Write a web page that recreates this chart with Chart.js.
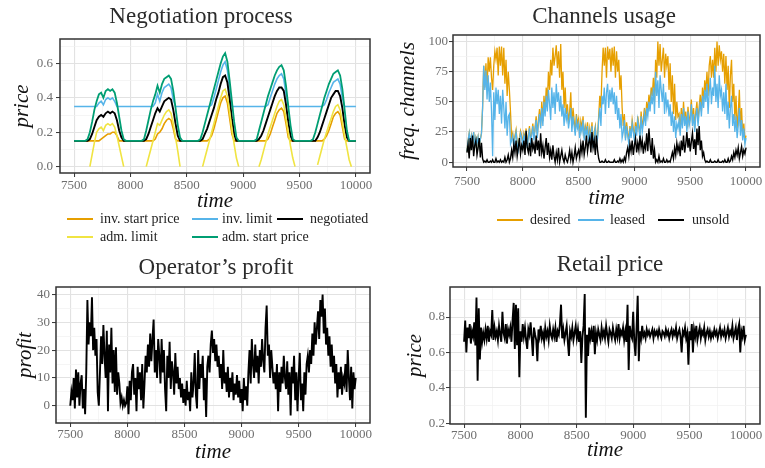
<!DOCTYPE html>
<html>
<head>
<meta charset="utf-8">
<script src="https://cdn.jsdelivr.net/npm/chart.js@4.4.1/dist/chart.umd.min.js"></script>
<style>
  html, body { margin: 0; padding: 0; background: #fff; }
  body { width: 765px; height: 468px; position: relative; overflow: hidden;
         font-family: 'Liberation Serif', 'DejaVu Serif', serif; }
  canvas { position: absolute; }
  .key { position: absolute; font-size: 14px; color: #222; line-height: 16px; white-space: nowrap; }
  .key i { position: absolute; height: 2px; width: 26px; top: 7px; }
  .key span { position: absolute; top: 0; }
</style>
</head>
<body>
<canvas id="nego" width="380" height="212" style="left:0;top:0"></canvas>
<canvas id="chan" width="385" height="212" style="left:380px;top:0"></canvas>
<canvas id="profit" width="380" height="218" style="left:0;top:250px"></canvas>
<canvas id="retail" width="385" height="218" style="left:380px;top:250px"></canvas>

<!-- legends -->
<div class="key" style="left:0;top:211px;width:380px;height:40px">
  <i style="left:67px;background:#E69F00"></i><span style="left:100px">inv. start price</span>
  <i style="left:192px;background:#56B4E9"></i><span style="left:222px">inv. limit</span>
  <i style="left:277px;background:#000"></i><span style="left:310px">negotiated</span>
</div>
<div class="key" style="left:0;top:229px;width:380px;height:20px">
  <i style="left:67px;background:#F0E442"></i><span style="left:100px">adm. limit</span>
  <i style="left:192px;background:#009E73"></i><span style="left:222px">adm. start price</span>
</div>
<div class="key" style="left:380px;top:212px;width:385px;height:20px">
  <i style="left:117px;background:#E69F00"></i><span style="left:150px">desired</span>
  <i style="left:198px;background:#56B4E9"></i><span style="left:230px">leased</span>
  <i style="left:278px;background:#000"></i><span style="left:312px">unsold</span>
</div>

<script>
// ---- axis ticks ----
const timeMajor = [7500, 8000, 8500, 9000, 9500, 10000];
const timeMinor = [7750, 8250, 8750, 9250, 9750];
const negoMajor = [0, 0.2, 0.4, 0.6];
const negoMinor = [0.1, 0.3, 0.5, 0.7];
const chanMajor = [0, 25, 50, 75, 100];
const chanMinor = [12.5, 37.5, 62.5, 87.5];
const profitMajor = [0, 10, 20, 30, 40];
const profitMinor = [-5, 5, 15, 25, 35];
const retailMajor = [0.2, 0.4, 0.6, 0.8];
const retailMinor = [0.3, 0.5, 0.7, 0.9];

// ---- negotiation process: 5 rounds, each sampled every 20 time units ----
const roundStart = [7600, 8100, 8600, 9100, 9600];
const roundOffset = [0, 20, 40, 60, 80, 100, 120, 140, 160, 180, 200, 220, 240, 260, 280, 300, 320, 340, 360];
const negoTime = [7500, ...roundStart.flatMap(s => roundOffset.map(o => s + o)), 10000];

const admStart = [0.15,
  0.15,0.16,0.20,0.26,0.33,0.38,0.42,0.43,0.40,0.44,0.45,0.44,0.45,0.43,0.37,0.29,0.21,0.16,0.15,
  0.15,0.16,0.21,0.27,0.33,0.38,0.42,0.47,0.43,0.48,0.51,0.52,0.53,0.51,0.44,0.34,0.24,0.17,0.15,
  0.15,0.16,0.20,0.25,0.30,0.35,0.40,0.45,0.50,0.55,0.60,0.64,0.66,0.61,0.50,0.38,0.26,0.17,0.15,
  0.15,0.16,0.21,0.26,0.31,0.36,0.41,0.45,0.49,0.53,0.56,0.58,0.59,0.56,0.47,0.35,0.24,0.16,0.15,
  0.15,0.16,0.20,0.25,0.30,0.35,0.40,0.44,0.48,0.51,0.54,0.55,0.56,0.53,0.45,0.33,0.21,0.15,0.15,
  0.15];
const invLimit = [0.35,
  0.35,0.35,0.35,0.35,0.35,0.35,0.37,0.38,0.36,0.39,0.40,0.39,0.40,0.38,0.35,0.35,0.35,0.35,0.35,
  0.35,0.35,0.35,0.35,0.35,0.35,0.37,0.42,0.38,0.43,0.46,0.47,0.48,0.46,0.39,0.35,0.35,0.35,0.35,
  0.35,0.35,0.35,0.35,0.35,0.35,0.36,0.40,0.45,0.50,0.55,0.59,0.61,0.56,0.45,0.35,0.35,0.35,0.35,
  0.35,0.35,0.35,0.35,0.35,0.35,0.36,0.40,0.44,0.48,0.51,0.53,0.54,0.51,0.42,0.35,0.35,0.35,0.35,
  0.35,0.35,0.35,0.35,0.35,0.35,0.36,0.39,0.43,0.46,0.49,0.50,0.51,0.48,0.40,0.35,0.35,0.35,0.35,
  0.35];
const negotiated = [0.15,
  0.15,0.15,0.16,0.19,0.23,0.27,0.29,0.30,0.29,0.31,0.32,0.31,0.32,0.31,0.27,0.21,0.17,0.15,0.15,
  0.15,0.15,0.16,0.19,0.23,0.27,0.31,0.34,0.32,0.35,0.38,0.39,0.40,0.39,0.33,0.25,0.18,0.15,0.15,
  0.15,0.15,0.16,0.19,0.22,0.26,0.30,0.34,0.39,0.43,0.48,0.52,0.53,0.49,0.39,0.28,0.19,0.15,0.15,
  0.15,0.15,0.16,0.18,0.21,0.25,0.29,0.33,0.37,0.41,0.44,0.46,0.46,0.44,0.36,0.26,0.18,0.15,0.15,
  0.15,0.15,0.15,0.17,0.20,0.24,0.28,0.32,0.36,0.40,0.42,0.44,0.44,0.41,0.34,0.24,0.17,0.15,0.15,
  0.15];
const invStart = [0.15,
  0.15,0.15,0.15,0.15,0.15,0.15,0.15,0.16,0.17,0.18,0.19,0.19,0.20,0.20,0.18,0.15,0.15,0.15,0.15,
  0.15,0.15,0.15,0.15,0.15,0.15,0.16,0.19,0.20,0.22,0.25,0.27,0.28,0.27,0.22,0.16,0.15,0.15,0.15,
  0.15,0.15,0.15,0.15,0.15,0.16,0.18,0.22,0.27,0.32,0.37,0.40,0.41,0.37,0.28,0.19,0.15,0.15,0.15,
  0.15,0.15,0.15,0.15,0.15,0.15,0.16,0.19,0.23,0.27,0.31,0.33,0.34,0.32,0.25,0.17,0.15,0.15,0.15,
  0.15,0.15,0.15,0.15,0.15,0.15,0.16,0.18,0.21,0.25,0.29,0.31,0.32,0.30,0.23,0.16,0.15,0.15,0.15,
  0.15];
const admLimit = [null,
  null,null,0.00,0.07,0.14,0.20,0.22,0.23,0.21,0.24,0.25,0.24,0.25,0.23,0.18,0.12,0.06,0.00,null,
  null,null,0.00,0.05,0.10,0.15,0.20,0.25,0.24,0.27,0.30,0.32,0.33,0.31,0.25,0.17,0.09,0.00,null,
  null,null,0.00,0.05,0.10,0.15,0.20,0.25,0.30,0.35,0.40,0.44,0.45,0.41,0.32,0.22,0.13,0.05,0.00,
  null,null,0.00,0.04,0.09,0.14,0.19,0.23,0.27,0.31,0.35,0.38,0.39,0.36,0.28,0.20,0.12,0.05,0.00,
  null,null,null,0.01,0.06,0.11,0.16,0.20,0.24,0.28,0.32,0.35,0.36,0.33,0.26,0.18,0.11,0.04,0.00,
  null];

// ---- channels usage, profit, retail price: every 10 time units from 7500 ----
const desired = [
  9,18,24,14,22,17,25,12,20,15,  21,13,19,24,45,80,62,82,60,87,
  75,87,70,60,80,92,85,95,72,96,  80,96,72,95,65,85,55,75,60,42,
  20,24,14,22,27,17,12,20,26,22,  16,24,20,28,14,22,30,18,24,32,
  20,29,38,22,35,44,30,50,34,55,  42,62,50,75,60,85,72,95,80,88,
  97,78,92,70,98,60,75,45,62,40,  48,32,42,58,30,45,35,25,40,32,
  36,22,34,28,38,20,30,25,33,18,  28,20,33,14,25,30,17,22,38,55,
  45,75,95,80,95,70,96,85,94,75,  95,80,96,70,92,75,85,60,72,45,
  30,40,20,33,25,17,30,22,35,28,  20,33,25,38,30,22,42,28,36,45,
  34,50,42,56,48,62,55,70,50,85,  70,100,80,98,75,85,95,70,90,80,
  88,60,82,50,72,40,65,35,50,38,  40,25,45,32,50,34,42,28,46,33,
  38,52,33,45,28,42,50,33,46,56,  42,62,50,68,58,75,55,80,88,70,
  85,70,95,75,100,80,97,85,92,75, 90,65,88,60,80,45,72,85,50,65,
  35,55,28,40,60,30,45,22,32,18,  22];
const leased = [
  9,18,24,14,22,17,25,12,20,15,  21,13,19,24,45,80,60,76,52,72,
  50,66,42,5,58,35,62,48,60,40,   55,32,60,45,28,50,22,38,40,15,
  18,22,12,20,25,15,10,18,24,20,  14,22,18,26,12,20,28,16,22,30,
  18,27,35,20,32,40,28,45,30,50,  38,55,42,60,48,35,62,45,58,40,
  65,50,58,42,55,38,48,30,45,35,  40,28,36,45,25,38,30,22,35,28,
  32,20,30,25,35,18,28,22,30,15,  25,18,30,12,22,28,15,20,35,45,
  30,55,48,62,40,58,65,45,60,50,  62,48,58,40,55,35,45,28,40,20,
  25,35,18,30,22,15,28,20,32,25,  18,30,22,35,28,20,38,25,32,40,
  30,45,38,50,42,55,48,62,40,75,  55,68,45,72,60,50,65,40,58,45,
  52,38,48,30,42,25,38,20,32,28,  35,22,40,28,45,30,38,25,42,30,
  35,48,30,40,25,38,45,30,42,50,  38,55,45,60,50,65,40,58,70,48,
  62,55,80,50,65,45,72,55,60,42,  58,40,65,35,50,28,45,55,30,40,
  25,38,20,30,45,22,35,18,28,15,  20];
const unsold = [
  8,15,3,20,10,22,5,14,18,6,      12,20,4,16,3,0,1,0,2,0,
  0,1,0,2,0,0,3,0,1,0,            2,0,1,0,4,0,2,6,0,3,
  10,4,15,8,18,5,12,20,7,14,      10,18,6,26,12,8,16,5,20,11,
  15,7,22,10,18,5,24,8,14,3,      12,20,6,16,4,10,2,14,5,0,
  8,2,12,0,5,10,3,0,6,2,          0,4,10,2,8,0,5,12,3,7,
  10,4,15,8,18,6,12,22,9,16,      20,8,25,12,18,6,22,10,3,0,
  0,1,0,0,2,0,0,1,0,0,            0,0,2,0,0,1,0,3,0,2,
  0,4,1,8,12,5,15,9,18,6,         14,20,8,16,10,22,12,18,7,15,
  11,24,9,28,15,6,20,3,10,0,      2,0,5,0,1,0,3,0,0,2,
  0,1,0,4,8,3,12,6,16,9,          14,5,18,10,22,8,15,25,12,20,
  9,17,24,11,19,6,28,14,30,10,    18,5,8,2,0,1,0,0,2,0,
  0,0,1,0,0,2,0,0,0,1,            0,2,0,0,3,0,1,5,2,8,
  4,10,6,12,3,8,13,5,10,7,        12];
const profit = [
  0,5,2,10,-1,13,3,12,0,8,         11,-1,6,-3,12,38,22,30,25,39,
  20,28,18,24,5,0,12,25,15,29,     18,10,27,-2,22,12,28,8,20,5,
  21,4,12,8,1,3,0,2,0,1,           7,-3,9,2,12,15,4,10,-2,14,
  6,12,2,15,-1,8,18,12,22,14,      26,16,24,31,12,20,10,24,18,8,
  24,12,20,6,-2,18,10,23,6,16,     12,4,19,8,14,6,10,3,8,1,
  6,0,9,2,5,-2,12,3,8,19,          4,-1,20,6,15,10,18,2,10,-4,
  14,18,12,22,27,19,24,16,22,14,   18,10,15,6,20,8,12,5,14,3,
  10,5,12,2,8,4,11,3,9,1,          6,-2,10,2,7,0,12,20,8,24,
  15,10,22,12,18,8,20,14,24,16,    12,28,36,18,22,10,20,14,8,12,
  6,15,-2,12,5,14,8,18,10,6,       16,4,12,-3.5,14,8,18,2,12,-2,
  10,19,2,8,-2,12,4,15,18,12,      20,15,26,18,30,22,28,34,24,38,
  32,40,26,35,22,28,18,25,14,22,   12,18,8,15,3,12,6,14,4,10,
  8,15,5,20,10,2,14,-1,12,6,       10];
const retail = [
  0.66,0.78,0.60,0.74,0.68,0.76,0.65,0.72,0.69,0.77,  0.64,0.91,0.44,0.85,0.56,0.74,0.66,0.71,0.67,0.73,
  0.68,0.75,0.66,0.72,0.70,0.84,0.67,0.74,0.69,0.72,  0.67,0.75,0.70,0.66,0.83,0.71,0.68,0.76,0.65,0.73,
  0.70,0.74,0.66,0.78,0.88,0.62,0.87,0.64,0.85,0.46,  0.72,0.66,0.76,0.69,0.74,0.67,0.62,0.73,0.70,0.77,
  0.68,0.58,0.74,0.70,0.67,0.55,0.73,0.69,0.75,0.68,  0.71,0.66,0.74,0.69,0.72,0.67,0.75,0.70,0.68,0.73,
  0.69,0.74,0.66,0.72,0.70,0.76,0.87,0.68,0.73,0.67,  0.71,0.75,0.66,0.58,0.72,0.69,0.74,0.67,0.71,0.75,
  0.68,0.73,0.66,0.72,0.54,0.69,0.75,0.93,0.23,0.70,  0.58,0.74,0.68,0.72,0.66,0.75,0.59,0.71,0.67,0.73,
  0.70,0.67,0.74,0.69,0.72,0.68,0.75,0.70,0.66,0.73,  0.71,0.68,0.74,0.70,0.67,0.73,0.69,0.76,0.68,0.72,
  0.70,0.74,0.67,0.72,0.66,0.87,0.50,0.75,0.70,0.68,  0.83,0.66,0.58,0.74,0.92,0.55,0.72,0.68,0.75,0.69,
  0.71,0.68,0.73,0.70,0.72,0.69,0.71,0.73,0.68,0.72,  0.70,0.72,0.69,0.73,0.70,0.68,0.72,0.71,0.69,0.73,
  0.70,0.72,0.68,0.71,0.73,0.69,0.72,0.70,0.74,0.68,  0.71,0.73,0.69,0.60,0.72,0.70,0.74,0.68,0.71,0.53,
  0.72,0.67,0.76,0.60,0.73,0.69,0.75,0.67,0.71,0.74,  0.68,0.72,0.70,0.74,0.67,0.71,0.73,0.69,0.72,0.68,
  0.71,0.69,0.73,0.70,0.72,0.68,0.71,0.74,0.69,0.72,  0.70,0.73,0.68,0.71,0.74,0.69,0.72,0.70,0.75,0.68,
  0.71,0.74,0.67,0.73,0.76,0.60,0.72,0.69,0.75,0.67,  0.70];
const stepTime = profit.map((_, i) => 7500 + 10 * i);

// ---- helpers ----
const serif = "'Liberation Serif', 'DejaVu Serif', serif";
Chart.defaults.font.family = serif;

const xy = (xs, ys) => xs.map((x, i) => ({ x: x, y: ys[i] }));

// ggplot-like closed panel border
const panelBorder = {
  id: 'panelBorder',
  afterDraw(chart) {
    const { ctx, chartArea: a } = chart;
    ctx.save();
    ctx.strokeStyle = '#333';
    ctx.lineWidth = 1.5;
    ctx.strokeRect(a.left, a.top, a.right - a.left, a.bottom - a.top);
    ctx.restore();
  }
};

// move the title block so its text is centred where the reference has it
const titleNudge = {
  id: 'titleNudge',
  afterLayout(chart, args, opts) {
    const t = chart.titleBlock;
    if (!t || opts.centerX == null) return;
    const dx = opts.centerX - (t.left + t.right) / 2;
    t.left += dx;
    t.right += dx;
  }
};

function axis(major, minor, min, max, fmt, fit, pad, title, titlePad) {
  const all = major.concat(minor);
  const isMajor = c => major.includes(c.tick.value);
  return {
    type: 'linear', min: min, max: max,
    afterBuildTicks: s => { s.ticks = all.map(v => ({ value: v })); },
    afterFit: fit,
    ticks: { autoSkip: false, maxRotation: 0, padding: pad, color: '#6e6e6e', font: { size: 13 },
             callback: v => major.includes(v) ? fmt(v) : '' },
    grid: {
      color: c => isMajor(c) ? '#e2e2e2' : '#f0f0f0',
      lineWidth: c => isMajor(c) ? 1.1 : 0.7,
      tickColor: c => isMajor(c) ? '#333' : 'rgba(0,0,0,0)',
      tickWidth: 1, tickLength: 4, drawTicks: true
    },
    border: { display: false },
    title: { display: true, text: title, color: '#111', padding: titlePad,
             font: { size: 21, style: 'italic', lineHeight: 1 } }
  };
}

function panel(id, p) {
  return new Chart(document.getElementById(id), {
    type: 'line',
    data: { datasets: p.datasets },
    options: {
      responsive: false, animation: false, devicePixelRatio: 1,
      layout: { padding: { left: 0, right: p.padRight, top: 0, bottom: 0 } },
      elements: { point: { radius: 0 }, line: { tension: 0 } },
      spanGaps: false,
      plugins: {
        legend: { display: false },
        tooltip: { enabled: false },
        title: { display: true, text: p.title, color: '#2b2b2b', font: { size: 23, weight: 'normal' },
                 padding: { top: p.titleTop, bottom: p.titleBottom } },
        titleNudge: { centerX: p.titleX }
      },
      scales: {
        x: axis(timeMajor, timeMinor, 7375, 10125, v => String(v),
                s => { s.height = p.xH; }, p.xPad, 'time', { bottom: p.xTitlePad }),
        y: axis(p.yMajor, p.yMinor, p.yMin, p.yMax, p.yFmt,
                s => { s.width = p.yW; }, p.yPad, p.yTitle, { top: p.yTitlePad })
      }
    },
    plugins: [panelBorder, titleNudge]
  });
}

const line = (label, data, color, width) =>
  ({ label: label, data: data, borderColor: color, backgroundColor: color, borderWidth: width, fill: false });

panel('nego', {
  title: 'Negotiation process', titleTop: 3.5, titleBottom: 7.9, titleX: 201, padRight: 10,
  xH: 39, xPad: 1, xTitlePad: 0.5,
  yW: 60, yPad: 3, yTitle: 'price', yTitlePad: 11.5,
  yMajor: negoMajor, yMinor: negoMinor, yMin: -0.037, yMax: 0.742, yFmt: v => v.toFixed(1),
  datasets: [
    line('adm. start price', xy(negoTime, admStart), '#009E73', 1.8),
    line('adm. limit', xy(negoTime, admLimit), '#F0E442', 1.6),
    line('negotiated', xy(negoTime, negotiated), '#000000', 1.9),
    line('inv. limit', xy(negoTime, invLimit), '#56B4E9', 1.6),
    line('inv. start price', xy(negoTime, invStart), '#E69F00', 1.6)
  ]
});

panel('chan', {
  title: 'Channels usage', titleTop: 3.2, titleBottom: 4.2, titleX: 224, padRight: 5,
  xH: 45, xPad: 2.5, xTitlePad: 3.5,
  yW: 73, yPad: 1, yTitle: 'freq. channels', yTitlePad: 17.5,
  yMajor: chanMajor, yMinor: chanMinor, yMin: -4, yMax: 105.5, yFmt: v => String(v),
  datasets: [
    line('unsold', xy(stepTime, unsold), '#000000', 1.4),
    line('leased', xy(stepTime, leased), '#56B4E9', 1.3),
    line('desired', xy(stepTime, desired), '#E69F00', 1.3)
  ]
});

panel('profit', {
  title: 'Operator\u2019s profit', titleTop: 4, titleBottom: 5.4, titleX: 216, padRight: 10,
  xH: 45, xPad: 0, xTitlePad: 5.5,
  yW: 56, yPad: 2, yTitle: 'profit', yTitlePad: 14.5,
  yMajor: profitMajor, yMinor: profitMinor, yMin: -6.2, yMax: 42.7, yFmt: v => String(v),
  datasets: [ line('profit', xy(stepTime, profit), '#000000', 1.9) ]
});

panel('retail', {
  title: 'Retail price', titleTop: 1, titleBottom: 8.4, titleX: 230, padRight: 5,
  xH: 44, xPad: 0, xTitlePad: 7.5,
  yW: 70, yPad: 1, yTitle: 'price', yTitlePad: 24.5,
  yMajor: retailMajor, yMinor: retailMinor, yMin: 0.195, yMax: 0.97, yFmt: v => v.toFixed(1),
  datasets: [ line('retail price', xy(stepTime, retail), '#000000', 1.9) ]
});
</script>
</body>
</html>
